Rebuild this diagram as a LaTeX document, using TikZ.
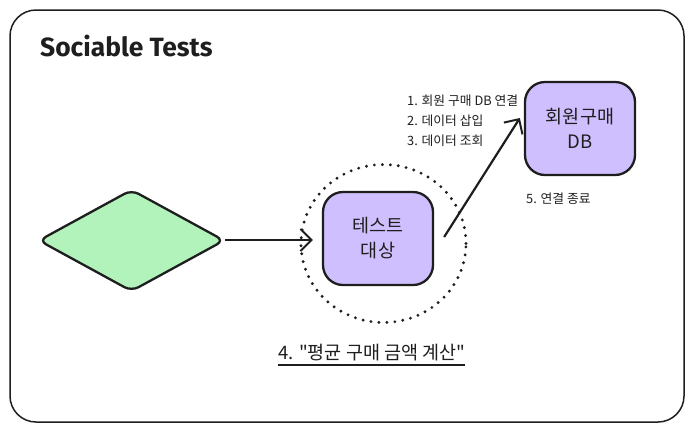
\documentclass[tikz,border=0pt]{standalone}
\usepackage{fontspec}
\setmainfont{Liberation Sans}
\newfontfamily\kr{Noto Sans CJK KR}
\newfontfamily\titlefont{Fira Sans}[UprightFont=* Bold]
\usetikzlibrary{arrows.meta,shapes.geometric}
\definecolor{ink}{HTML}{1E1E1E}
\definecolor{lgreen}{HTML}{B2F2BB}
\definecolor{lviolet}{HTML}{D0BFFF}
\tikzset{
  box/.style={draw=ink, line width=2.3pt, fill=lviolet, rounded corners=20pt, minimum width=110pt, minimum height=93pt, align=center, font=\kr\fontsize{18.5}{25}\selectfont, text=ink},
  conn/.style={draw=ink, line width=2.2pt, -{Straight Barb[length=11pt,width=22pt,line width=2pt]}},
  lbl/.style={font=\kr\fontsize{12.8}{15}\selectfont, text=ink, anchor=west, inner sep=0pt}
}
\begin{document}
\begin{tikzpicture}[x=1pt,y=-1pt]
\useasboundingbox (0,0) rectangle (693,432);
\fill[white] (0,0) rectangle (693,432);
\node[draw=ink, line width=1.5pt, rounded corners=26pt, minimum width=674pt, minimum height=412pt, inner sep=0pt] (frame) at (347,216) {};
\node[anchor=west, inner sep=0pt, font=\titlefont\fontsize{26.4}{30}\selectfont, text=ink] (title) at (40,46) {Sociable Tests};
\node[diamond, draw=ink, line width=2.3pt, fill=lgreen, rounded corners=8pt, minimum width=186pt, minimum height=102pt, inner sep=0pt, aspect=1.8] (dia) at (131.5,240.5) {};
\node[draw=ink, line width=3.2pt, dash pattern=on 0pt off 8pt, line cap=round, ellipse, minimum width=165pt, minimum height=158pt, inner sep=0pt] (circ) at (383.5,243.5) {};
\node[box] (test) at (378,238.5) {테스트\\대상};
\node[box] (db) at (580,128.5) {회원구매\\DB};
\draw[conn] ([xshift=-0.5pt,yshift=0.5pt]dia.east) -- ([xshift=-9pt,yshift=-1.5pt]test.west);
\draw[conn] ([xshift=10pt,yshift=1.5pt]test.east) -- ([xshift=-4pt,yshift=10.5pt]db.west);
\node[lbl] (l1) at (407,101) {1. 회원 구매 DB 연결};
\node[lbl] (l2) at (407,121) {2. 데이터 삽입};
\node[lbl] (l3) at (407,141) {3. 데이터 조회};
\node[lbl] (l5) at (526,199) {5. 연결 종료};
\node[anchor=west, inner sep=0pt, font=\kr\fontsize{18.5}{22}\selectfont, text=ink] (l4) at (278,353) {4. "평균 구매 금액 계산"};
\draw[ink, line width=1.1pt] (l4.west |- 0,365) -- (l4.east |- 0,365);
\end{tikzpicture}
\end{document}
